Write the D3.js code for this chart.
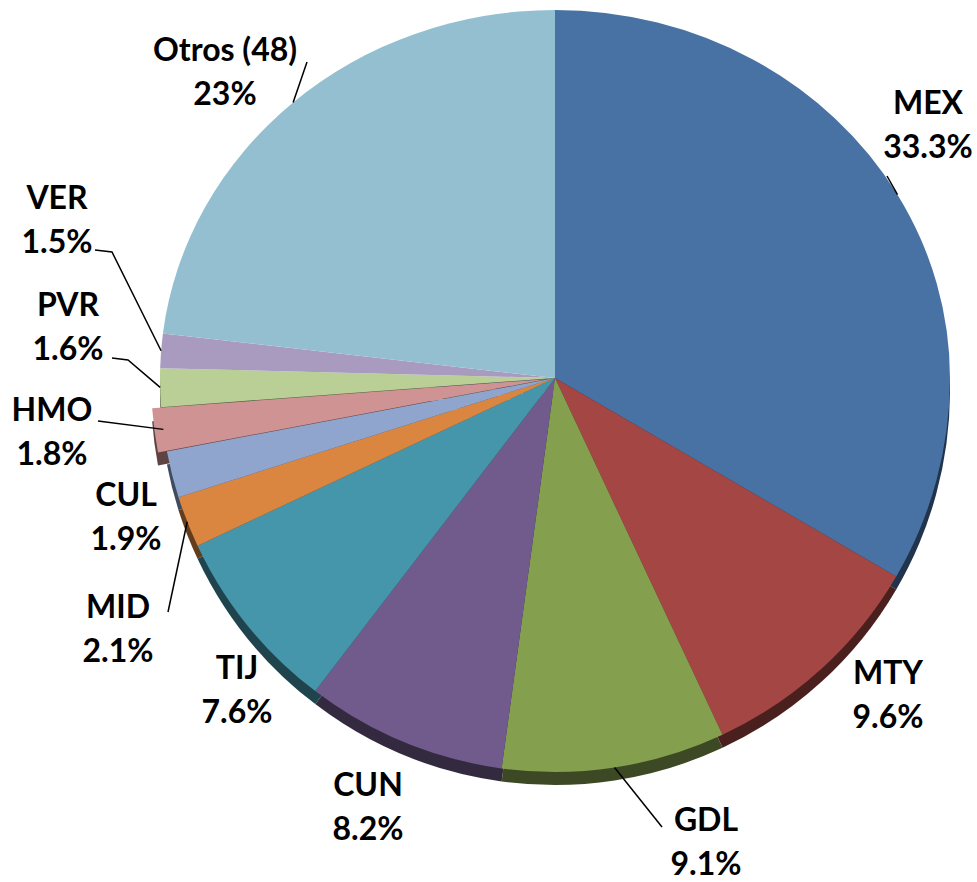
<!DOCTYPE html>
<html>
<head>
<meta charset="utf-8">
<script src="https://cdn.jsdelivr.net/npm/d3@7"></script>
<style>
  body { margin: 0; background: #fff; }
  .lbl { font-family: Lato, "Open Sans", sans-serif; font-weight: bold; font-size: 32px; fill: #000; }
</style>
</head>
<body>
<svg></svg>
<script>
// data
var categories = ["MEX", "MTY", "GDL", "CUN", "TIJ", "MID", "CUL", "HMO", "PVR", "VER", "Otros (48)"]
var values = [33.3, 9.6, 9.1, 8.2, 7.6, 2.1, 1.9, 1.8, 1.6, 1.5, 23]
var valueLabels = ["33.3%", "9.6%", "9.1%", "8.2%", "7.6%", "2.1%", "1.9%", "1.8%", "1.6%", "1.5%", "23%"]
var colors = ["#4872a4", "#a34644", "#84a04e", "#715b8c", "#4596ab", "#da8540", "#8fa5cd", "#d09393", "#b9cf96", "#a99bbf", "#93bfd0"]

// label layout: text centre, leader end (null = no leader)
var labelLayout = {
  "MEX": {x: 928, y: 103, lead: [887, 176]},
  "MTY": {x: 888, y: 673, lead: null},
  "GDL": {x: 706, y: 820, lead: [662, 827]},
  "CUN": {x: 368, y: 785, lead: null},
  "TIJ": {x: 237, y: 668, lead: null},
  "MID": {x: 118, y: 607, lead: [168, 612]},
  "CUL": {x: 126, y: 495, lead: null},
  "HMO": {x: 52, y: 410, lead: [98, 421]},
  "PVR": {x: 68, y: 305, lead: [112, 358, 128, 360]},
  "VER": {x: 57, y: 198, lead: [95, 250, 112, 252]},
  "Otros (48)": {x: 225, y: 50, lead: [307, 62]}
}

var screen = {width: 977, height: 882}
// tilted pie: upper half flatter than lower half
var pie3d = {cx: 555, cy: 378, rx: 395, ryTop: 368, ryBottom: 394, depth: 13}
var exploded = "HMO"
var R = 100

var svg = d3.select("svg")
  .attr("width", screen.width)
  .attr("height", screen.height)

var slices = d3.pie().sort(null).value(function(d){ return d.v })
  (categories.map(function(c, i){ return {name: c, v: values[i], pct: valueLabels[i], color: colors[i]} }))

var arc = d3.arc().innerRadius(0).outerRadius(R)

var ellipsePoint = function(a)
{
  var ry = Math.cos(a) > 0 ? pie3d.ryTop : pie3d.ryBottom
  return [pie3d.cx + pie3d.rx * Math.sin(a), pie3d.cy - ry * Math.cos(a)]
}

var offsetOf = function(d)
{
  if (d.data.name != exploded) return [0, 0]
  var m = (d.startAngle + d.endAngle) / 2
  return [9 * Math.sin(m), -9 * Math.cos(m)]
}

var defs = svg.append("defs")
defs.append("clipPath").attr("id", "upper")
  .append("rect").attr("x", 0).attr("y", 0).attr("width", screen.width).attr("height", pie3d.cy)
defs.append("clipPath").attr("id", "lower")
  .append("rect").attr("x", 0).attr("y", pie3d.cy).attr("width", screen.width).attr("height", screen.height)

var drawHalf = function(parent, clipId, ry, dy, fillFn)
{
  parent.append("g")
    .attr("clip-path", "url(#" + clipId + ")")
    .append("g")
    .attr("transform", "translate(0," + dy + ")")
    .selectAll("path")
    .data(slices)
    .enter()
    .append("path")
    .attr("transform", function(d){
      var o = offsetOf(d)
      return "translate(" + (pie3d.cx + o[0]) + "," + (pie3d.cy + o[1]) + ") scale(" + (pie3d.rx / R) + "," + (ry / R) + ")"
    })
    .attr("d", arc)
    .attr("fill", fillFn)
}

// side (depth) layer: lower half shifted down
var sideLayer = svg.append("g")
drawHalf(sideLayer, "lower", pie3d.ryBottom, pie3d.depth, function(d){ return d3.color(d.data.color).darker(2.2) })

// top surface
var topLayer = svg.append("g")
drawHalf(topLayer, "upper", pie3d.ryTop, 0, function(d){ return d.data.color })
drawHalf(topLayer, "lower", pie3d.ryBottom, 0, function(d){ return d.data.color })

// leader lines
var leaders = svg.append("g")
slices.forEach(function(d){
  var L = labelLayout[d.data.name]
  if (!L.lead) return
  var m = (d.startAngle + d.endAngle) / 2
  var pts = [ellipsePoint(m)]
  for (var i = L.lead.length - 2; i >= 0; i -= 2) pts.push([L.lead[i], L.lead[i + 1]])
  leaders.append("path")
    .attr("d", d3.line()(pts))
    .attr("fill", "none")
    .attr("stroke", "#000")
    .attr("stroke-width", 1.5)
})

// labels
var labels = svg.append("g")
slices.forEach(function(d){
  var L = labelLayout[d.data.name]
  var t = labels.append("text")
    .classed("lbl", true)
    .attr("text-anchor", "middle")
    .attr("x", L.x)
    .attr("y", L.y)
  t.append("tspan").attr("x", L.x).attr("dy", "0.35em").text(d.data.name)
  t.append("tspan").attr("x", L.x).attr("dy", 44).text(d.data.pct)
})
</script>
</body>
</html>
